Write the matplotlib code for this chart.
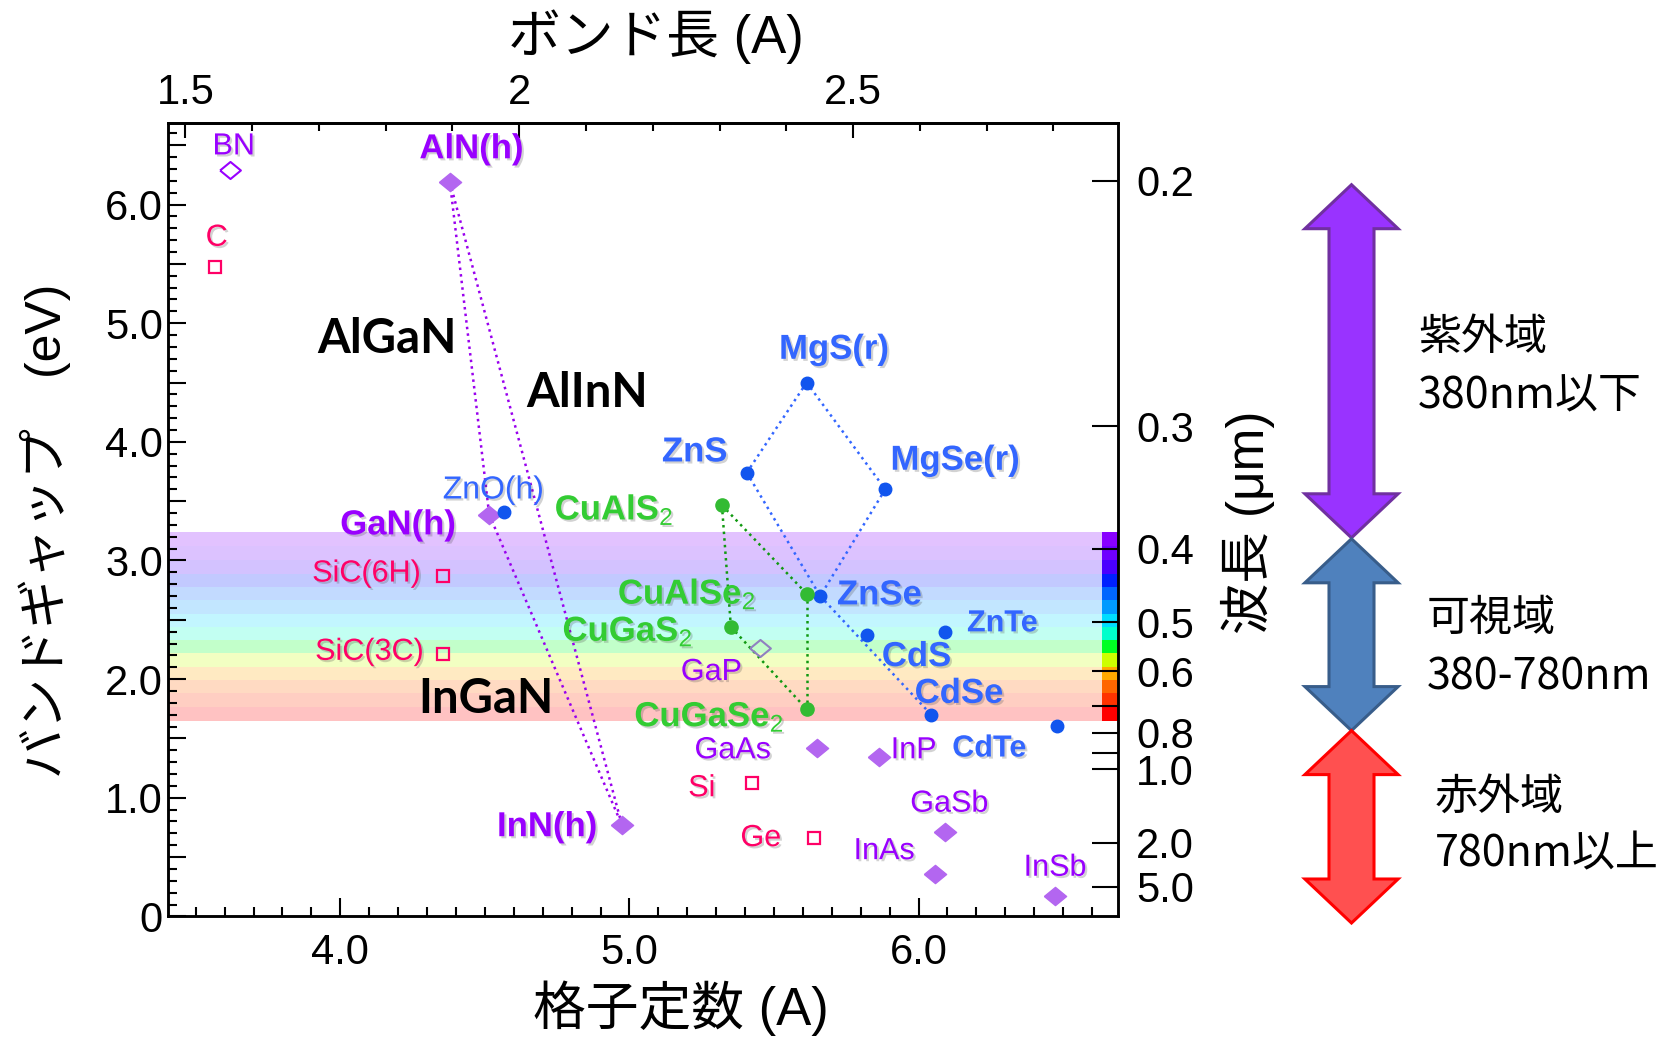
import numpy as np, matplotlib
matplotlib.use("Agg"); import matplotlib.pyplot as plt
import matplotlib.patheffects as pe
from matplotlib.patches import Polygon
from matplotlib.ticker import MultipleLocator, FixedLocator, FuncFormatter

plt.rcParams['font.family'] = ['Liberation Sans', 'Noto Sans CJK JP', 'DejaVu Sans']
plt.rcParams['mathtext.fontset'] = 'custom'
plt.rcParams['mathtext.rm'] = 'Liberation Sans'
plt.rcParams['mathtext.bf'] = 'Liberation Sans:bold'
plt.rcParams['mathtext.it'] = 'Liberation Sans:italic'

# ---- data: lattice constant (A) and band gap (eV) ----
iii_v = ["AlN(h)", "GaN(h)", "InN(h)", "GaAs", "InP", "GaSb", "InAs", "InSb"]
iii_v_a = [4.379, 4.515, 4.974, 5.648, 5.865, 6.091, 6.057, 6.473]
iii_v_eg = [6.19, 3.387, 0.77, 1.416, 1.345, 0.714, 0.354, 0.174]

open_d = ["BN", "GaP"]
open_d_a = [3.618, 5.452]
open_d_eg = [6.294, 2.259]

grp_iv = ["C", "SiC(6H)", "SiC(3C)", "Si", "Ge"]
grp_iv_a = [3.567, 4.356, 4.356, 5.424, 5.640]
grp_iv_eg = [5.474, 2.868, 2.208, 1.121, 0.663]

ii_vi = ["ZnO(h)", "ZnS", "MgS(r)", "MgSe(r)", "ZnSe", "CdS", "ZnTe", "CdSe", "CdTe"]
ii_vi_a = [4.566, 5.406, 5.613, 5.885, 5.660, 5.821, 6.092, 6.044, 6.480]
ii_vi_eg = [3.41, 3.74, 4.50, 3.60, 2.70, 2.37, 2.40, 1.70, 1.604]

chalco = ["CuAlS2", "CuAlSe2", "CuGaS2", "CuGaSe2"]
chalco_a = [5.320, 5.613, 5.351, 5.613]
chalco_eg = [3.466, 2.72, 2.44, 1.747]

nitride_links = [("AlN(h)", "GaN(h)"), ("GaN(h)", "InN(h)"), ("AlN(h)", "InN(h)")]
ii_vi_links = [("MgS(r)", "ZnS"), ("MgS(r)", "MgSe(r)"), ("ZnS", "ZnSe"), ("MgSe(r)", "ZnSe"), ("ZnSe", "CdSe")]
chalco_links = [("CuAlS2", "CuAlSe2"), ("CuAlS2", "CuGaS2"), ("CuGaS2", "CuGaSe2"), ("CuAlSe2", "CuGaSe2")]

# visible spectrum stripes (eV)
band_edges = [3.241, 3.123, 3.003, 2.890, 2.778, 2.666, 2.553, 2.441, 2.329, 2.217, 2.104, 1.992, 1.880, 1.761, 1.649]
band_cols = ["#8800FF", "#7000FF", "#4A00FF", "#0020FF", "#0066FF", "#0099FF", "#00DDFF",
             "#00FFCC", "#00FF22", "#CCFF00", "#FFAA00", "#FF6600", "#FF3300", "#FF0000"]

# axes ticks
bond_ticks = [1.5, 2.0, 2.5]; bond_labels = ["1.5", "2", "2.5"]
wl_ticks = [0.2, 0.3, 0.4, 0.5, 0.6, 0.7, 0.8, 0.9, 1.0, 2.0, 5.0]
wl_labels = ["0.2", "0.3", "0.4", "0.5", "0.6", "", "0.8", "", "1.0", "2.0", "5.0"]

PUR, PINK, BLUE, GRN = "#9900FF", "#FF0066", "#3366FF", "#33CC33"

# labels: text, a, Eg, colour, weight, size
labels = [
    ("BN", 3.631, 6.49, PUR, "normal", 22), ("C", 3.572, 5.72, PINK, "normal", 22),
    ("AlN(h)", 4.454, 6.47, PUR, "bold", 25), ("GaN(h)", 4.20, 3.30, PUR, "bold", 25),
    ("InN(h)", 4.716, 0.756, PUR, "bold", 25),
    ("MgS(r)", 5.708, 4.78, BLUE, "bold", 25), ("ZnS", 5.226, 3.915, BLUE, "bold", 25),
    ("MgSe(r)", 6.127, 3.845, BLUE, "bold", 25), ("ZnO(h)", 4.53, 3.59, BLUE, "normal", 23),
    ("ZnSe", 5.865, 2.71, BLUE, "bold", 25), ("ZnTe", 6.29, 2.47, BLUE, "bold", 22),
    ("CdS", 5.993, 2.19, BLUE, "bold", 25), ("CdSe", 6.14, 1.88, BLUE, "bold", 25),
    ("CdTe", 6.245, 1.415, BLUE, "bold", 22),
    ("CuAlS$_2$", 4.947, 3.43, GRN, "bold", 25), ("CuAlSe$_2$", 5.199, 2.72, GRN, "bold", 25),
    ("CuGaS$_2$", 4.994, 2.40, GRN, "bold", 25), ("CuGaSe$_2$", 5.276, 1.68, GRN, "bold", 25),
    ("SiC(6H)", 4.09, 2.89, PINK, "normal", 22), ("SiC(3C)", 4.10, 2.23, PINK, "normal", 22),
    ("Si", 5.25, 1.08, PINK, "normal", 22), ("Ge", 5.454, 0.66, PINK, "normal", 22),
    ("GaP", 5.283, 2.06, PUR, "normal", 22), ("GaAs", 5.357, 1.40, PUR, "normal", 22),
    ("InP", 5.983, 1.40, PUR, "normal", 22), ("GaSb", 6.106, 0.95, PUR, "normal", 22),
    ("InAs", 5.881, 0.55, PUR, "normal", 22), ("InSb", 6.472, 0.41, PUR, "normal", 22),
]
alloys = [("AlGaN", 4.16, 4.87), ("AlInN", 4.855, 4.41), ("InGaN", 4.504, 1.83)]

W, H = 1666, 1040
fig = plt.figure(figsize=(W/100, H/100), dpi=100)
ax = fig.add_axes([168.3/W, 1-916.4/H, (1118-168.3)/W, (916.4-122.7)/H])
ax.set_xlim(3.405, 6.69); ax.set_ylim(0, 6.69)

for lo, hi, c in zip(band_edges[1:], band_edges[:-1], band_cols):
    ax.axhspan(lo, hi, color=c, alpha=0.24, lw=0, zorder=0)
    ax.axhspan(lo, hi, xmin=0.983, xmax=1.0, color=c, lw=0, zorder=1)

pos = {}
for nn, aa, ee in [(iii_v, iii_v_a, iii_v_eg), (ii_vi, ii_vi_a, ii_vi_eg), (chalco, chalco_a, chalco_eg)]:
    pos.update({n: (x, y) for n, x, y in zip(nn, aa, ee)})
for links, col in [(nitride_links, "#9900EE"), (ii_vi_links, "#3366FF"), (chalco_links, "#119911")]:
    for p, q in links:
        ax.plot([pos[p][0], pos[q][0]], [pos[p][1], pos[q][1]], ':', color=col, lw=1.8, zorder=2)

wide_d = [(-1, 0), (0, 0.82), (1, 0), (0, -0.82), (-1, 0)]
ax.plot(iii_v_a, iii_v_eg, ls='none', marker=wide_d, ms=16, color="#B366F0", zorder=4)
for x, y, ec in zip(open_d_a, open_d_eg, [PUR, "#9080C0"]):
    ax.plot(x, y, ls='none', marker=wide_d, ms=15, mfc='none', mec=ec, mew=1.5, zorder=4)
ax.plot(grp_iv_a, grp_iv_eg, 's', ms=8.5, mfc='none', mec=PINK, mew=1.6, zorder=4)
ax.plot(ii_vi_a, ii_vi_eg, 'o', ms=9, color="#1155EE", zorder=4)
ax.plot(chalco_a, chalco_eg, 'o', ms=9.5, color="#33BB33", zorder=4)

shadow = [pe.withSimplePatchShadow(offset=(1.5, -1.5), shadow_rgbFace='0.3', alpha=0.25)]
for t, x, y, c, w, s in labels:
    ax.text(x, y, t, color=c, fontweight=w, fontsize=s, ha='center', va='center',
            zorder=5, path_effects=shadow)
for t, x, y in alloys:
    ax.text(x, y, t, color='black', fontweight='bold', fontsize=34, ha='center', va='center',
            family=['Lato', 'Liberation Sans'], zorder=5)

# axes, ticks
ax.xaxis.set_major_locator(FixedLocator([4.0, 5.0, 6.0]))
ax.xaxis.set_minor_locator(MultipleLocator(0.1))
ax.xaxis.set_major_formatter(FuncFormatter(lambda v, p: f"{v:.1f}"))
ax.yaxis.set_major_locator(MultipleLocator(0.5))
ax.yaxis.set_minor_locator(MultipleLocator(0.1))
ax.yaxis.set_major_formatter(FuncFormatter(
    lambda v, p: ("0" if abs(v) < 1e-9 else f"{v:.1f}") if abs(v-round(v)) < 1e-6 else ""))
ax.tick_params(which='both', direction='in', top=False, right=False, width=1.5, labelsize=30)
ax.tick_params(which='major', length=13); ax.tick_params(which='minor', length=6.5)
ax.tick_params(axis='x', pad=12); ax.tick_params(axis='y', pad=4)
for sp in ax.spines.values(): sp.set_linewidth(1.8)

top = ax.secondary_xaxis('top', functions=(lambda a: a*np.sqrt(3)/4, lambda b: b*4/np.sqrt(3)))
top.set_xticks(bond_ticks, bond_labels)
top.xaxis.set_minor_locator(MultipleLocator(0.1))
top.tick_params(which='both', direction='in', width=1.5, labelsize=30, pad=7)
top.tick_params(which='major', length=11); top.tick_params(which='minor', length=5.5)
top.spines['top'].set_linewidth(1.8)

ax2 = ax.twinx(); ax2.set_ylim(ax.get_ylim())
ax2.set_yticks([1.24/l for l in wl_ticks], wl_labels)
ax2.tick_params(direction='in', length=19, width=1.5, labelsize=30, pad=13)
for sp in ax2.spines.values(): sp.set_linewidth(1.8)

fig.text(656/W, 1-37/H, "ボンド長 (A)", ha='center', va='center', fontsize=38)
fig.text(681/W, 1-1008/H, "格子定数 (A)", ha='center', va='center', fontsize=38)
fig.text(45/W, 1-531/H, "バンドギャップ\u3000(eV)", ha='center', va='center', fontsize=36, rotation=90)
fig.text(1248/W, 1-522/H, "波長 (μm)", ha='center', va='center', fontsize=37, rotation=90)

# region arrows on the right
def darrow(cx, y0, y1, hw=46.6, sw=22.5, hl=44):
    pts = [(cx, y0), (cx+hw, y0+hl), (cx+sw, y0+hl), (cx+sw, y1-hl), (cx+hw, y1-hl), (cx, y1),
           (cx-hw, y1-hl), (cx-sw, y1-hl), (cx-sw, y0+hl), (cx-hw, y0+hl)]
    return [(x/W, 1-y/H) for x, y in pts]

for (y0, y1), fc, ec in [((184.7, 537.8), "#9933FF", "#7030A0"),
                         ((538.8, 730.6), "#4F81BD", "#385D8A"),
                         ((730.6, 923.0), "#FF5050", "#FF0000")]:
    fig.add_artist(Polygon(darrow(1351.5, y0, y1), closed=True, transform=fig.transFigure,
                           fc=fc, ec=ec, lw=2.2))

cjk = ['Noto Sans CJK JP', 'DejaVu Sans']
for t, x, y in [("紫外域", 1418, 338), ("380nm以下", 1418, 396), ("可視域", 1427, 619),
                ("380-780nm", 1427, 678), ("赤外域", 1435, 798), ("780nm以上", 1435, 854)]:
    fig.text(x/W, 1-y/H, t, ha='left', va='center', fontsize=31, family=cjk)

fig.savefig("out.png", dpi=100)
